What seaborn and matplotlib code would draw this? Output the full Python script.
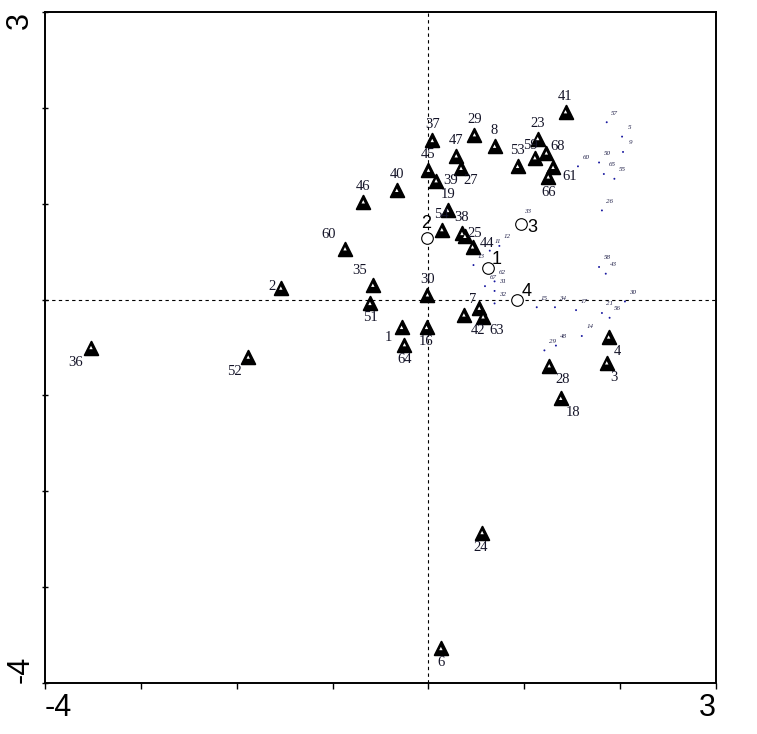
"""
CANOCO 风格排序双序图：物种（三角形）、样方（小点）与名义变量质心（圆圈）。
"""

import matplotlib
matplotlib.use("Agg")
import matplotlib.pyplot as plt
import seaborn as sns
import pandas as pd
from matplotlib.ticker import FixedLocator

# 物种得分（三角形）
species_ids = ["41", "23", "53", "59", "68", "61", "66", "8", "29", "37",
               "47", "45", "27", "39", "40", "46", "19", "54", "38", "25",
               "44", "60", "35", "51", "2", "30", "7", "42", "63", "1",
               "16", "64", "36", "52", "4", "3", "28", "18", "24", "6"]
species_x = [1.43, 1.14, 0.93, 1.11, 1.23, 1.30, 1.25, 0.69, 0.48, 0.04,
             0.29, 0.00, 0.34, 0.08, -0.33, -0.68, 0.20, 0.14, 0.35, 0.38,
             0.46, -0.87, -0.58, -0.61, -1.54, -0.01, 0.53, 0.37, 0.57, -0.28,
             -0.02, -0.25, -3.52, -1.88, 1.88, 1.86, 1.26, 1.38, 0.56, 0.13]
species_y = [1.96, 1.68, 1.39, 1.48, 1.53, 1.38, 1.28, 1.60, 1.72, 1.66,
             1.50, 1.35, 1.37, 1.24, 1.14, 1.02, 0.93, 0.73, 0.69, 0.66,
             0.55, 0.53, 0.15, -0.04, 0.12, 0.05, -0.09, -0.16, -0.18, -0.29,
             -0.29, -0.47, -0.50, -0.60, -0.39, -0.66, -0.69, -1.03, -2.43, -3.64]

# 样方得分（小点 + 斜体小标签）
sample_ids = ["57", "5", "9", "60", "50", "65", "55", "26", "33", "12",
              "11", "13", "62", "67", "31", "32", "58", "43", "15", "34",
              "17", "30", "21", "56", "14", "48", "29"]
sample_x = [1.86, 2.02, 2.03, 1.56, 1.78, 1.83, 1.94, 1.81, 0.95, 0.74,
            0.64, 0.47, 0.69, 0.59, 0.69, 0.69, 1.78, 1.85, 1.13, 1.32,
            1.54, 2.05, 1.81, 1.89, 1.60, 1.33, 1.21]
sample_y = [1.85, 1.70, 1.54, 1.39, 1.43, 1.31, 1.26, 0.93, 0.82, 0.56,
            0.51, 0.36, 0.19, 0.14, 0.09, -0.04, 0.34, 0.27, -0.08, -0.08,
            -0.11, -0.02, -0.14, -0.19, -0.38, -0.48, -0.53]

# 名义环境变量质心（空心圆）
centroid_ids = ["1", "2", "3", "4"]
centroid_x = [0.62, -0.01, 0.97, 0.92]
centroid_y = [0.33, 0.64, 0.79, 0.00]

axis_min, axis_max = -4, 3
tick_labels = ["-4", "3"]

# 物种标签相对三角形的位置（像素偏移, ha, va）
label_pos = {
    "59": (-4, 6, "center", "bottom"),
    "61": (9, -9, "left", "center"), "66": (0, -9, "center", "top"),
    "68": (4, 6, "left", "center"), "27": (2, -6, "left", "top"),
    "39": (7, 0, "left", "center"), "25": (3, 3, "left", "center"),
    "44": (7, 3, "left", "center"), "60": (-9, 8, "right", "bottom"),
    "35": (-6, 8, "right", "bottom"), "51": (0, -8, "center", "top"),
    "2": (-5, 2, "right", "center"), "7": (-3, 2, "right", "bottom"),
    "42": (14, -9, "center", "top"), "63": (14, -7, "center", "top"),
    "1": (-9, -4, "right", "top"), "16": (0, -8, "center", "top"),
    "64": (0, -8, "center", "top"), "36": (-15, -8, "center", "top"),
    "52": (-14, -8, "center", "top"), "4": (9, -8, "center", "top"),
    "3": (7, -8, "center", "top"), "28": (13, -7, "center", "top"),
    "18": (12, -8, "center", "top"), "24": (-1, -8, "center", "top"),
    "6": (0, -8, "center", "top"),
}
centroid_pos = {
    "1": (4, 0, "left", "bottom"), "2": (-1, 6, "center", "bottom"),
    "3": (6, -4, "left", "center"), "4": (5, 0, "left", "bottom"),
}

species_df = pd.DataFrame({"id": species_ids, "x": species_x, "y": species_y})
sample_df = pd.DataFrame({"id": sample_ids, "x": sample_x, "y": sample_y})
centroid_df = pd.DataFrame({"id": centroid_ids, "x": centroid_x, "y": centroid_y})

sns.set_theme(style="white")
plt.rcParams["font.family"] = ["Liberation Sans", "DejaVu Sans"]

fig = plt.figure(figsize=(7.57, 7.34), dpi=100)
ax = fig.add_axes([45 / 757, 51 / 734, 671 / 757, 671 / 734])

# 原点十字虚线
ax.axvline(0, color="black", lw=0.8, ls=(0, (3, 3)), zorder=1)
ax.axhline(0, color="black", lw=0.8, ls=(0, (3, 3)), zorder=1)

# 样方：小点 + 斜体标签
sns.scatterplot(data=sample_df, x="x", y="y", ax=ax, s=2, color="#1a1aa0",
                edgecolor="none", legend=False, zorder=2)
for _, r in sample_df.iterrows():
    ax.annotate(r["id"], (r["x"], r["y"]), xytext=(8, 9), textcoords="offset pixels",
                ha="center", va="center", fontsize=5, style="italic",
                color="#22224a", family=["Liberation Serif"], zorder=6)

# 物种：粗三角形，中心留白点
sns.scatterplot(data=species_df, x="x", y="y", ax=ax, marker="^", s=95,
                color="black", edgecolor="black", linewidth=1.4, legend=False, zorder=3)
sns.scatterplot(data=species_df, x="x", y="y", ax=ax, marker="^", s=6,
                color="white", edgecolor="none", legend=False, zorder=4)
for _, r in species_df.iterrows():
    dx, dy, ha, va = label_pos.get(r["id"], (0, 9, "center", "bottom"))
    ax.annotate(r["id"], (r["x"], r["y"]), xytext=(dx, dy), textcoords="offset pixels",
                ha=ha, va=va, fontsize=10.5, color="#141428",
                family=["Liberation Serif"], zorder=6)

# 质心：空心圆 + 大号数字
sns.scatterplot(data=centroid_df, x="x", y="y", ax=ax, marker="o", s=70,
                facecolor="white", edgecolor="black", linewidth=0.8, legend=False, zorder=5)
for _, r in centroid_df.iterrows():
    dx, dy, ha, va = centroid_pos[r["id"]]
    ax.annotate(r["id"], (r["x"], r["y"]), xytext=(dx, dy), textcoords="offset pixels",
                ha=ha, va=va, fontsize=13, color="black", zorder=6)

ax.set_xlim(axis_min, axis_max)
ax.set_ylim(axis_min, axis_max)
ax.set_xlabel("")
ax.set_ylabel("")

# 只在两端标注刻度值，中间整数为次刻度
ax.xaxis.set_major_locator(FixedLocator([axis_min, axis_max]))
ax.yaxis.set_major_locator(FixedLocator([axis_min, axis_max]))
ax.xaxis.set_minor_locator(FixedLocator(range(axis_min + 1, axis_max)))
ax.yaxis.set_minor_locator(FixedLocator(range(axis_min + 1, axis_max)))
ax.set_xticklabels(tick_labels, fontsize=22)
ax.set_yticklabels(tick_labels, fontsize=22, rotation=90)
ax.get_xticklabels()[0].set_ha("left")
ax.get_xticklabels()[1].set_ha("right")
ax.get_yticklabels()[0].set_va("bottom")
ax.get_yticklabels()[1].set_va("top")
ax.tick_params(axis="x", which="both", direction="out", length=4, width=1,
               color="black", labelcolor="black", bottom=True, pad=3)
ax.tick_params(axis="y", which="both", direction="inout", length=4, width=1,
               color="black", labelcolor="black", left=True, pad=5)

for sp in ax.spines.values():
    sp.set_color("black")
    sp.set_linewidth(1.4)

fig.savefig("out.png", dpi=100, facecolor="white")
